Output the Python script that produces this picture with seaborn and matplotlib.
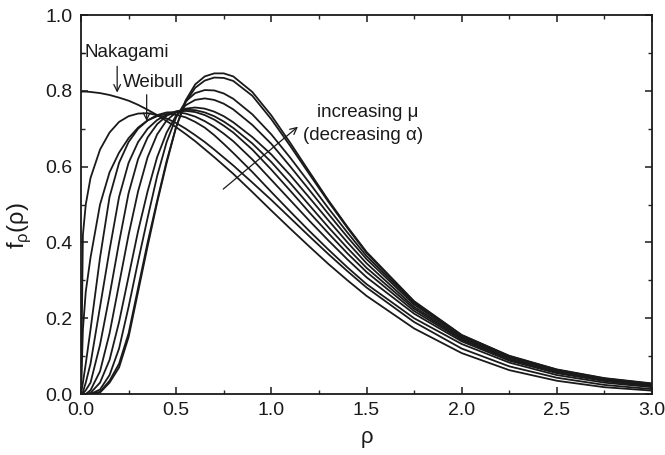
import matplotlib
matplotlib.use("Agg")
import matplotlib.pyplot as plt
import seaborn as sns
import pandas as pd
from matplotlib.ticker import MultipleLocator, FormatStrFormatter

rho = [0, 0.01, 0.025, 0.05, 0.1, 0.15, 0.2, 0.25, 0.3, 0.35, 0.4, 0.45, 0.5, 0.55, 0.6, 0.65,
       0.7, 0.75, 0.8, 0.9, 1.0, 1.1, 1.2, 1.3, 1.4, 1.5, 1.75, 2.0, 2.25, 2.5, 2.75, 3.0]

nakagami = [0.798, 0.798, 0.798, 0.797, 0.794, 0.789, 0.782, 0.774, 0.763, 0.750, 0.736, 0.720, 0.704, 0.686, 0.667, 0.646,
            0.625, 0.603, 0.581, 0.533, 0.484, 0.436, 0.389, 0.343, 0.300, 0.259, 0.173, 0.108, 0.063, 0.035, 0.018, 0.009]
c1 = [0.0, 0.42, 0.50, 0.57, 0.645, 0.69, 0.718, 0.733, 0.740, 0.741, 0.736, 0.727, 0.715, 0.700, 0.683, 0.665,
      0.645, 0.624, 0.603, 0.558, 0.512, 0.464, 0.416, 0.369, 0.324, 0.281, 0.190, 0.120, 0.073, 0.043, 0.024, 0.013]
weibull = [0.0, 0.17, 0.27, 0.36, 0.50, 0.585, 0.637, 0.675, 0.703, 0.722, 0.733, 0.739, 0.737, 0.730, 0.718, 0.703,
           0.683, 0.660, 0.636, 0.586, 0.533, 0.481, 0.430, 0.381, 0.334, 0.290, 0.200, 0.132, 0.083, 0.050, 0.030, 0.018]
c3 = [0.0, 0.03, 0.08, 0.17, 0.36, 0.52, 0.61, 0.665, 0.700, 0.722, 0.736, 0.743, 0.744, 0.740, 0.732, 0.720,
      0.705, 0.687, 0.667, 0.619, 0.565, 0.511, 0.457, 0.405, 0.355, 0.308, 0.212, 0.139, 0.088, 0.055, 0.034, 0.020]
c4 = [0.0, 0.005, 0.03, 0.08, 0.23, 0.38, 0.52, 0.61, 0.665, 0.700, 0.723, 0.737, 0.745, 0.747, 0.744, 0.736,
      0.724, 0.708, 0.690, 0.645, 0.592, 0.536, 0.479, 0.424, 0.371, 0.322, 0.219, 0.143, 0.091, 0.057, 0.036, 0.022]
c5 = [0.0, 0.001, 0.01, 0.03, 0.13, 0.26, 0.40, 0.53, 0.62, 0.677, 0.712, 0.734, 0.746, 0.750, 0.749, 0.743,
      0.733, 0.719, 0.702, 0.661, 0.612, 0.556, 0.498, 0.440, 0.385, 0.333, 0.225, 0.146, 0.094, 0.059, 0.037, 0.023]
c6 = [0.0, 0.0, 0.0, 0.01, 0.06, 0.16, 0.29, 0.42, 0.535, 0.625, 0.685, 0.722, 0.743, 0.753, 0.756, 0.753,
      0.745, 0.733, 0.717, 0.678, 0.632, 0.577, 0.518, 0.458, 0.400, 0.345, 0.230, 0.149, 0.096, 0.061, 0.038, 0.024]
c7 = [0.0, 0.0, 0.0, 0.003, 0.03, 0.09, 0.19, 0.31, 0.43, 0.535, 0.625, 0.690, 0.735, 0.762, 0.776, 0.780,
      0.776, 0.766, 0.751, 0.710, 0.660, 0.600, 0.538, 0.475, 0.414, 0.356, 0.236, 0.152, 0.098, 0.062, 0.039, 0.025]
c8 = [0.0, 0.0, 0.0, 0.0, 0.012, 0.05, 0.12, 0.23, 0.35, 0.465, 0.575, 0.665, 0.730, 0.772, 0.794, 0.802,
      0.801, 0.793, 0.779, 0.738, 0.685, 0.623, 0.557, 0.490, 0.426, 0.364, 0.240, 0.154, 0.099, 0.063, 0.040, 0.026]
c9 = [0.0, 0.0, 0.0, 0.0, 0.006, 0.035, 0.08, 0.16, 0.28, 0.40, 0.51, 0.615, 0.705, 0.770, 0.808, 0.827,
      0.835, 0.834, 0.826, 0.787, 0.725, 0.654, 0.580, 0.507, 0.438, 0.372, 0.243, 0.155, 0.100, 0.064, 0.041, 0.027]
c10 = [0.0, 0.0, 0.0, 0.0, 0.004, 0.03, 0.07, 0.15, 0.27, 0.39, 0.505, 0.61, 0.705, 0.775, 0.817, 0.838,
       0.846, 0.846, 0.838, 0.797, 0.735, 0.662, 0.586, 0.511, 0.441, 0.375, 0.245, 0.156, 0.101, 0.065, 0.042, 0.028]

curves = {"Nakagami": nakagami, "c1": c1, "Weibull": weibull, "c3": c3, "c4": c4,
          "c5": c5, "c6": c6, "c7": c7, "c8": c8, "c9": c9, "c10": c10}

rows = []
for name, vals in curves.items():
    for r, v in zip(rho, vals):
        rows.append({"rho": r, "f": v, "curve": name})
df = pd.DataFrame(rows)

sns.set_theme(style="ticks")
plt.rcParams["font.family"] = ["Liberation Sans", "DejaVu Sans"]
plt.rcParams["mathtext.fontset"] = "custom"
plt.rcParams["mathtext.rm"] = "Liberation Sans"

INK = "#1a1a1a"
fig = plt.figure(figsize=(6.65, 4.55), dpi=100)
ax = fig.add_axes([0.1218, 0.134, 0.8587, 0.833])

sns.lineplot(data=df, x="rho", y="f", units="curve", estimator=None, color=INK,
             lw=1.3, ax=ax, legend=False)

ax.set_xlim(0, 3.0)
ax.set_ylim(0, 1.0)
ax.xaxis.set_major_locator(MultipleLocator(0.5))
ax.xaxis.set_minor_locator(MultipleLocator(0.25))
ax.yaxis.set_major_locator(MultipleLocator(0.2))
ax.yaxis.set_minor_locator(MultipleLocator(0.1))
ax.xaxis.set_major_formatter(FormatStrFormatter("%.1f"))
ax.yaxis.set_major_formatter(FormatStrFormatter("%.1f"))
ax.tick_params(which="major", direction="in", length=5, width=1.1, top=True, right=True,
               labelsize=14, colors=INK, pad=6)
ax.tick_params(which="minor", direction="in", length=3, width=1.0, top=True, right=True)
for s in ax.spines.values():
    s.set_linewidth(1.3)
    s.set_color(INK)

ax.set_xlabel("ρ", fontsize=16, color=INK)
ax.set_ylabel("f$_\\mathregular{ρ}$(ρ)", fontsize=17, color=INK)
ax.xaxis.set_label_coords(0.5, -0.088)
ax.yaxis.set_label_coords(-0.084, 0.443)

# annotations
TS = 13.5
ax.annotate("", xy=(0.19, 0.788), xytext=(0.19, 0.872),
            arrowprops=dict(arrowstyle="->", color=INK, lw=0.9))
ax.text(0.021, 0.9, "Nakagami", fontsize=TS, va="center", ha="left", color=INK)
ax.plot([0, 0.021], [0.9, 0.9], color=INK, lw=0.9)
ax.text(0.221, 0.821, "Weibull", fontsize=TS, va="center", ha="left", color=INK)
ax.annotate("", xy=(0.345, 0.713), xytext=(0.345, 0.797),
            arrowprops=dict(arrowstyle="->", color=INK, lw=0.9))
ax.annotate("", xy=(1.151, 0.71), xytext=(0.736, 0.536),
            arrowprops=dict(arrowstyle="->", color=INK, lw=0.9))
ax.text(1.239, 0.744, "increasing μ", fontsize=TS, va="center", ha="left", color=INK)
ax.text(1.167, 0.683, "(decreasing α)", fontsize=TS, va="center", ha="left", color=INK)

fig.savefig("out.png", dpi=100)
